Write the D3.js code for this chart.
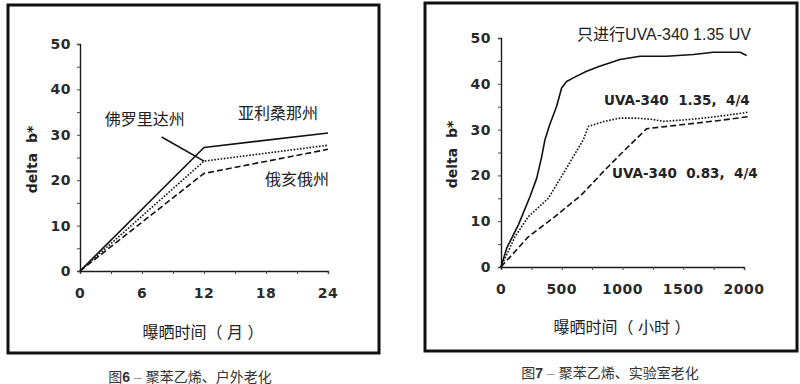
<!DOCTYPE html>
<html>
<head>
<meta charset="utf-8">
<script src="https://cdn.jsdelivr.net/npm/d3@7"></script>
<style>
  html, body { margin: 0; padding: 0; background: #fff; }
  svg { display: block; }
  text { white-space: pre; }
</style>
</head>
<body>
<div id="chart"></div>
<script>
// Fig 6 - outdoor weathering (months)
const outdoorMonths = [0, 12, 24];
const arizona = [0, 27.2, 30.4];
const florida = [0, 24.2, 27.7];
const ohio = [0, 21.5, 26.8];
const outdoorTickLabels = [0, 6, 12, 18, 24];

// Fig 7 - lab weathering (hours)
const uvOnlyHours = [0, 47, 143, 239, 294, 335, 362, 400, 458, 499, 540, 595, 700, 800, 979, 1144, 1363, 1583, 1748, 1967, 2022];
const uvOnly = [0, 4.1, 9.2, 15.4, 19.4, 24.1, 27.8, 31, 35.1, 39.1, 40.5, 41.3, 42.7, 43.7, 45.3, 46, 46, 46.4, 46.9, 46.9, 46.2];
const cycle135Hours = [0, 115, 225, 390, 499, 595, 678, 719, 850, 979, 1120, 1253, 1335, 1500, 1664, 1850, 2035];
const cycle135 = [0, 6.6, 11, 15, 19.8, 24.1, 27.8, 30.7, 31.8, 32.5, 32.5, 32.2, 31.8, 32.1, 32.5, 33.1, 33.8];
const cycle083Hours = [0, 225, 444, 664, 856, 1021, 1199, 1500, 1800, 2030];
const cycle083 = [0, 6.6, 11, 15.8, 21.2, 25.6, 30.2, 31.1, 32, 32.8];
const labTickLabels = [0, 500, 1000, 1500, 2000];

const yTickLabels = [0, 10, 20, 30, 40, 50];

const W = 800, H = 384;
const numFont = '"DejaVu Sans", sans-serif';
const cjkFont = '"Liberation Sans", "Noto Sans CJK SC", sans-serif';
const ink = '#1a1a1a';

const svg = d3.select('#chart').append('svg')
    .attr('width', W)
    .attr('height', H);

function drawPanel(cfg) {
    const g = svg.append('g');

    // frame
    g.append('rect')
        .attr('x', cfg.frame[0]).attr('y', cfg.frame[1])
        .attr('width', cfg.frame[2]).attr('height', cfg.frame[3])
        .attr('fill', 'none')
        .attr('stroke', '#111')
        .attr('stroke-width', 3);

    const x = d3.scaleLinear().domain(cfg.xDomain).range(cfg.xRange);
    const y = d3.scaleLinear().domain([0, 50]).range(cfg.yRange);

    // axes
    const xAxis = d3.axisBottom(x)
        .tickValues(cfg.xMinor)
        .tickSize(3)
        .tickFormat('');
    const yAxis = d3.axisLeft(y)
        .tickValues(d3.range(0, 51, 5))
        .tickSize(3)
        .tickFormat('');

    g.append('g')
        .attr('transform', `translate(0,${y(0)})`)
        .call(xAxis)
        .call(a => a.select('.domain').attr('stroke', ink).attr('stroke-width', 1.4))
        .call(a => a.selectAll('.tick line').attr('stroke', '#444'));
    g.append('g')
        .attr('transform', `translate(${x(0)},0)`)
        .call(yAxis)
        .call(a => a.select('.domain').attr('stroke', ink).attr('stroke-width', 1.4))
        .call(a => a.selectAll('.tick line').attr('stroke', '#444'));

    // tick labels
    g.selectAll('.xlab')
        .data(cfg.xLabels)
        .join('text')
        .attr('x', d => x(d))
        .attr('y', y(0) + 27)
        .attr('text-anchor', 'middle')
        .attr('font-family', numFont)
        .attr('font-weight', 'bold')
        .attr('font-size', 14)
        .attr('letter-spacing', 0.5)
        .attr('fill', '#2a2a2a')
        .text(d => d);

    g.selectAll('.ylab')
        .data(yTickLabels)
        .join('text')
        .attr('x', x(0) - cfg.yLabelGap)
        .attr('y', d => y(d) + 5)
        .attr('text-anchor', 'end')
        .attr('font-family', numFont)
        .attr('font-weight', 'bold')
        .attr('font-size', 14)
        .attr('letter-spacing', 0.5)
        .attr('fill', '#2a2a2a')
        .text(d => d);

    // axis titles
    g.append('text')
        .attr('transform', `translate(${cfg.yTitleX},${(y(0) + y(50)) / 2 + 2}) rotate(-90)`)
        .attr('text-anchor', 'middle')
        .attr('font-family', numFont)
        .attr('font-weight', 'bold')
        .attr('font-size', 14)
        .attr('fill', '#222')
        .text('delta  b*');

    g.append('text')
        .attr('x', cfg.xTitle[0])
        .attr('y', cfg.xTitle[1])
        .attr('text-anchor', 'middle')
        .attr('font-family', cjkFont)
        .attr('font-size', 16)
        .attr('fill', '#222')
        .text(cfg.xTitleText);

    // caption
    g.append('text')
        .attr('x', cfg.caption[0])
        .attr('y', cfg.caption[1])
        .attr('text-anchor', 'middle')
        .attr('font-family', cjkFont)
        .attr('font-size', 14)
        .attr('fill', '#333')
        .call(t => {
            t.append('tspan').text('图');
            t.append('tspan').attr('font-weight', 'bold').text(cfg.captionNum);
            t.append('tspan').attr('fill', '#999').text(' – ');
            t.append('tspan').text(cfg.captionText);
        });

    // series
    const line = d3.line()
        .x(d => x(d[0]))
        .y(d => y(d[1]));

    cfg.series.forEach(s => {
        g.append('path')
            .datum(s.xs.map((v, i) => [v, s.ys[i]]))
            .attr('d', line)
            .attr('fill', 'none')
            .attr('stroke', '#111')
            .attr('stroke-width', s.width)
            .attr('stroke-dasharray', s.dash)
            .attr('stroke-linejoin', 'round');
    });

    // annotations
    cfg.labels.forEach(l => {
        g.append('text')
            .attr('x', x(l.x))
            .attr('y', y(l.y))
            .attr('font-family', l.font)
            .attr('font-weight', l.bold ? 'bold' : 'normal')
            .attr('font-size', l.size)
            .attr('letter-spacing', l.spacing || 0)
            .attr('fill', '#222')
            .text(l.text);
    });

    (cfg.leaders || []).forEach(d => {
        g.append('line')
            .attr('x1', x(d[0])).attr('y1', y(d[1]))
            .attr('x2', x(d[2])).attr('y2', y(d[3]))
            .attr('stroke', '#111')
            .attr('stroke-width', 1.6);
    });
}

drawPanel({
    frame: [8, 5, 371, 348],
    xDomain: [0, 24],
    xRange: [80, 328],
    yRange: [271, 44],
    xMinor: d3.range(0, 25, 3),
    xLabels: outdoorTickLabels,
    yLabelGap: 9,
    yTitleX: 37,
    xTitle: [203, 338],
    xTitleText: '曝晒时间（ 月 ）',
    caption: [190, 382],
    captionNum: '6',
    captionText: '聚苯乙烯、户外老化',
    series: [
        { xs: outdoorMonths, ys: arizona, dash: null, width: 1.6 },
        { xs: outdoorMonths, ys: florida, dash: '1.6,1.6', width: 1.6 },
        { xs: outdoorMonths, ys: ohio, dash: '6,3', width: 1.6 }
    ],
    labels: [
        { text: '佛罗里达州', x: 2.4, y: 32.1, font: cjkFont, size: 16 },
        { text: '亚利桑那州', x: 15.3, y: 33.4, font: cjkFont, size: 16 },
        { text: '俄亥俄州', x: 17.9, y: 19.0, font: cjkFont, size: 16 }
    ],
    leaders: [[7.9, 29.5, 12, 24.2]]
});

drawPanel({
    frame: [425, 3, 372, 348],
    xDomain: [0, 2000],
    xRange: [501, 744],
    yRange: [267, 38],
    xMinor: d3.range(0, 2001, 250),
    xLabels: labTickLabels,
    yLabelGap: 10,
    yTitleX: 457,
    xTitle: [622, 333],
    xTitleText: '曝晒时间（ 小时 ）',
    caption: [610, 378],
    captionNum: '7',
    captionText: '聚苯乙烯、实验室老化',
    series: [
        { xs: uvOnlyHours, ys: uvOnly, dash: null, width: 1.6 },
        { xs: cycle135Hours, ys: cycle135, dash: '1.6,1.6', width: 1.6 },
        { xs: cycle083Hours, ys: cycle083, dash: '6,3', width: 1.6 }
    ],
    labels: [
        { text: '只进行UVA-340 1.35 UV', x: 625, y: 49.5, font: cjkFont, size: 16 },
        { text: 'UVA-340  1.35,  4/4', x: 848, y: 35.4, font: numFont, size: 13.5, bold: true },
        { text: 'UVA-340  0.83,  4/4', x: 914, y: 19.4, font: numFont, size: 13.5, bold: true }
    ]
});
</script>
</body>
</html>
